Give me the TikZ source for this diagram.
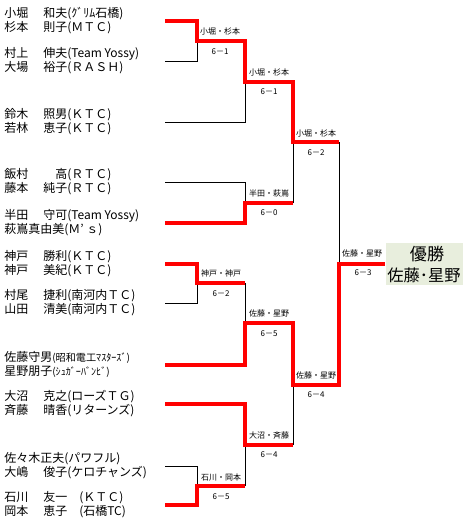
\documentclass[tikz,border=0pt]{standalone}
\usepackage{fontspec}
\setmainfont{Noto Sans CJK JP}
\definecolor{winred}{RGB}{255,0,0}
\definecolor{boxgreen}{RGB}{232,238,221}
\newcommand{\nm}[2]{\makebox[29.25pt][l]{#1}#2}
\newcommand{\sm}[1]{{\fontsize{7.6}{8}\selectfont #1}}
\tikzset{
  win/.style={draw=winred, line width=3pt, line join=miter},
  lose/.style={draw=black, line width=0.75pt},
  nmtxt/.style={anchor=west, inner sep=0pt, font=\fontsize{9}{10}\selectfont},
  lbl/.style={inner sep=0pt, font=\fontsize{6}{7}\selectfont},
}
\begin{document}
\begin{tikzpicture}[x=0.75pt,y=-0.75pt]
\useasboundingbox (0,0) rectangle (470,522);
% entry points
\coordinate (e1) at (165,21);
\coordinate (e2) at (165,61);
\coordinate (e3) at (165,122);
\coordinate (e4) at (165,182);
\coordinate (e5) at (165,223);
\coordinate (e6) at (165,264);
\coordinate (e7) at (165,303);
\coordinate (e8) at (165,365);
\coordinate (e9) at (165,404);
\coordinate (e10) at (165,466);
\coordinate (e11) at (165,505);
% junctions
\coordinate (j1) at (197,41);
\coordinate (j2) at (245,82);
\coordinate (j3) at (245,203);
\coordinate (k3) at (293,203);
\coordinate (j4) at (293,142);
\coordinate (o4) at (339,142);
\coordinate (j5) at (197,283);
\coordinate (k5) at (245,283);
\coordinate (j6) at (245,323);
\coordinate (j7) at (197,486);
\coordinate (k7) at (245,486);
\coordinate (j8) at (245,445);
\coordinate (k8) at (293,445);
\coordinate (j9) at (293,385);
\coordinate (jf) at (339,264);
% champion box
\node (champ) [fill=boxgreen, minimum width=57.75pt, minimum height=31.5pt, inner sep=0pt] at (424,264) {};
\node (champa) [inner sep=0pt, font=\fontsize{12.8}{14}\selectfont] at (427,254) {優勝};
\node (champb) [inner sep=0pt, font=\fontsize{12.2}{14}\selectfont] at (424,275) {佐藤･星野};
% black (losing) lines
\draw[lose] (e2) -| (j1);
\draw[lose] (e3) -| (j2);
\draw[lose] (e4) -| (j3);
\draw[lose] (k3) -- (j4);
\draw[lose] (o4) -- (jf);
\draw[lose] (e7) -| (j5);
\draw[lose] (k5) -- (j6);
\draw[lose] (e10) -| (j7);
\draw[lose] (k7) -- (j8);
\draw[lose] (k8) -- (j9);
% red (winning) lines
\draw[win] (e1) -| (j1) -| (j2) -| (j4) -- (o4);
\draw[win] (e5) -| (j3) -- (k3);
\draw[win] (e6) -| (j5) -- (k5);
\draw[win] (e11) -| (j7) -- (k7);
\draw[win] (e9) -| (j8) -- (k8);
\draw[win] (e8) -| (j6) -| (j9) -| (jf) -- (champ.west);
% match labels
\node[lbl] (l1) at (220,31) {小堀・杉本};
\node[lbl] (s1) at (220,52) {6－1};
\node[lbl] (l2) at (269,72) {小堀・杉本};
\node[lbl] (s2) at (269,92) {6－1};
\node[lbl] (l3) at (269,193) {半田・萩嶌};
\node[lbl] (s3) at (269,213) {6－0};
\node[lbl] (l4) at (316,133) {小堀・杉本};
\node[lbl] (s4) at (316,153) {6－2};
\node[lbl] (l5) at (221,273) {神戸・神戸};
\node[lbl] (s5) at (221,294) {6－2};
\node[lbl] (l6) at (269,313) {佐藤・星野};
\node[lbl] (s6) at (269,334) {6－5};
\node[lbl] (l7) at (221,477) {石川・岡本};
\node[lbl] (s7) at (221,497) {6－5};
\node[lbl] (l8) at (269,435) {大沼・斉藤};
\node[lbl] (s8) at (269,455) {6－4};
\node[lbl] (l9) at (316,375) {佐藤・星野};
\node[lbl] (s9) at (316,395) {6－4};
\node[lbl] (lf) at (362,253) {佐藤・星野};
\node[lbl] (sf) at (363,273) {6－3};
% names
\node[nmtxt] (t1a) at (4,13.5) {\nm{小堀}{和夫(ｸﾞﾘﾑ石橋)}};
\node[nmtxt] (t1b) at (4,28) {\nm{杉本}{則子(ＭＴＣ)}};
\node[nmtxt] (t2a) at (4,53.5) {\nm{村上}{伸夫(Team Yossy)}};
\node[nmtxt] (t2b) at (4,68) {\nm{大場}{裕子(ＲＡＳＨ)}};
\node[nmtxt] (t3a) at (4,114.5) {\nm{鈴木}{照男(ＫＴＣ)}};
\node[nmtxt] (t3b) at (4,129) {\nm{若林}{恵子(ＫＴＣ)}};
\node[nmtxt] (t4a) at (4,174.5) {\nm{飯村}{　高(ＲＴＣ)}};
\node[nmtxt] (t4b) at (4,189) {\nm{藤本}{純子(ＲＴＣ)}};
\node[nmtxt] (t5a) at (4,215.5) {\nm{半田}{守可(Team Yossy)}};
\node[nmtxt] (t5b) at (4,230) {萩嶌真由美(Ｍ’ ｓ)};
\node[nmtxt] (t6a) at (4,256.5) {\nm{神戸}{勝利(ＫＴＣ)}};
\node[nmtxt] (t6b) at (4,271) {\nm{神戸}{美紀(ＫＴＣ)}};
\node[nmtxt] (t7a) at (4,295.5) {\nm{村尾}{捷利(南河内ＴＣ)}};
\node[nmtxt] (t7b) at (4,310) {\nm{山田}{清美(南河内ＴＣ)}};
\node[nmtxt] (t8a) at (4,357.5) {佐藤守男\sm{(昭和電工ﾏｽﾀｰｽﾞ)}};
\node[nmtxt] (t8b) at (4,372) {星野朋子\sm{(ｼｭｶﾞｰﾊﾞﾝﾋﾞ)}};
\node[nmtxt] (t9a) at (4,396.5) {\nm{大沼}{克之(ローズＴＧ)}};
\node[nmtxt] (t9b) at (4,411) {\nm{斉藤}{晴香(リターンズ)}};
\node[nmtxt] (t10a) at (4,458.5) {佐々木正夫(パワフル)};
\node[nmtxt] (t10b) at (4,473) {\nm{大嶋}{俊子(ケロチャンズ)}};
\node[nmtxt] (t11a) at (4,497.5) {\nm{石川}{友一　(ＫＴＣ)}};
\node[nmtxt] (t11b) at (4,512) {\nm{岡本}{恵子　(石橋TC)}};
\end{tikzpicture}
\end{document}
